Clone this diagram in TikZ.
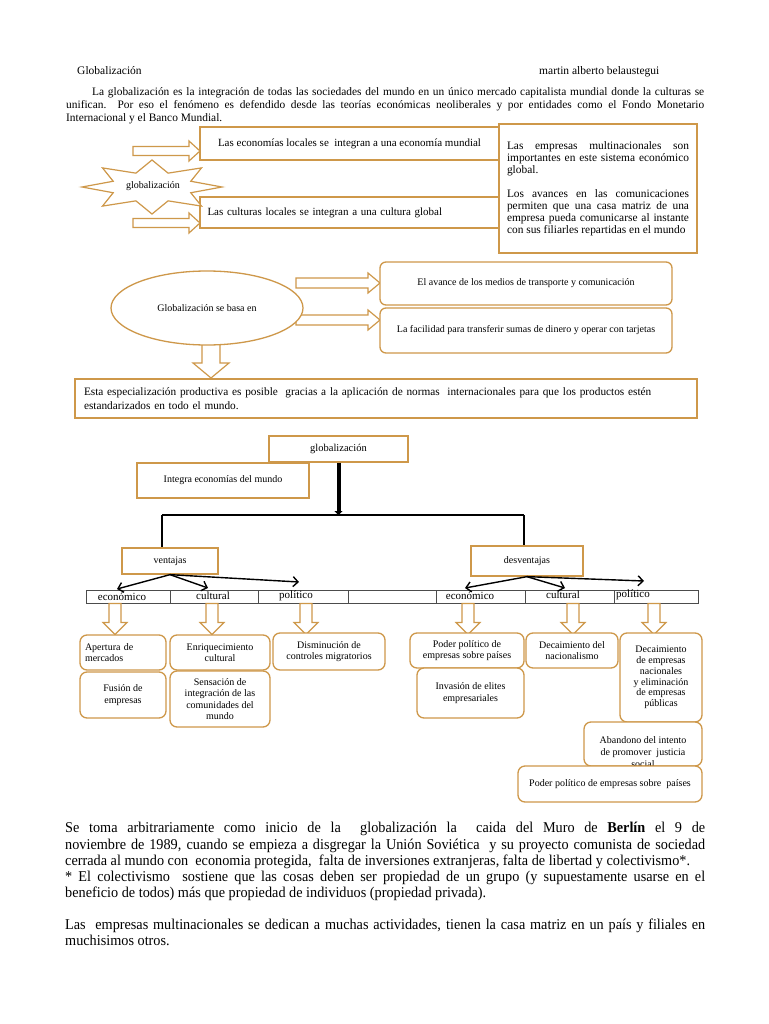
\documentclass[tikz,border=0pt]{standalone}
\usepackage{fontspec}
\setmainfont{Liberation Serif}
\usetikzlibrary{shapes.geometric,arrows.meta}
\definecolor{boxc}{RGB}{206,152,74}
\newcommand\fs[2]{\fontsize{#1}{#2}\selectfont}
\newcommand\jl[2]{\makebox[#1][s]{#2}}
\newcommand\cjl[1]{\scalebox{0.95}[1]{\makebox[673.7pt][s]{#1}}}
\newcommand\cnl[1]{\scalebox{0.95}[1]{#1}}
\tikzset{
  pics/blk/.style n args={4}{code={%
    \draw[barrow] (0,-#2) -- ({#1-#4},-#2) -- ({#1-#4},-#3) -- (#1,0) -- ({#1-#4},#3) -- ({#1-#4},#2) -- (0,#2) -- cycle;}},
  barrow/.style={draw=boxc,line width=1.2pt,fill=white,line join=miter},
  obox/.style={draw=boxc,line width=1.3pt,inner sep=0pt,align=center,fill=white},
  rbox/.style={obox,rounded corners=6pt},
  tline/.style={line width=1.6pt,draw=black},
  barb/.style={line width=1.4pt,-{Straight Barb[length=5pt,width=10pt]}},
  cell/.style={draw=black!70,line width=0.6pt,minimum height=13pt,inner sep=0pt},
  lbl/.style={font=\fs{11}{12},inner sep=0pt},
  txt/.style={inner sep=0pt,anchor=base west},
}
\begin{document}
\begin{tikzpicture}[x=1pt,y=-1pt]
\useasboundingbox[fill=white] (0,0) rectangle (768,1024);

% header
\node[txt,font=\fs{11.5}{13}] (title) at (77,75) {Globalización};
\node[txt,font=\fs{11.5}{13}] (author) at (539,75) {martin alberto belaustegui};
\node[txt,font=\fs{11.4}{13}] (i1) at (92,96) {\jl{612pt}{La globalización es la integración de todas las sociedades del mundo en un único mercado capitalista mundial donde la culturas se}};
\node[txt,font=\fs{11.4}{13}] (i2) at (66,109) {\jl{638pt}{unifican.\ \ Por eso el fenómeno es defendido desde las teorías económicas neoliberales y por entidades como el Fondo Monetario}};
\node[txt,font=\fs{11.4}{13}] (i3) at (66,122) {Internacional y el Banco Mundial.};

% top section
\pic at (133,151) {blk={67}{4.5}{10}{11}};
\pic at (133,223) {blk={67}{4.5}{10}{11}};
\node[obox,minimum width=299,minimum height=33,font=\fs{11}{12}] (b1) at (349.5,143.5) {Las economías locales se\ \ integran a una economía mundial};
\node[obox,minimum width=299,minimum height=31,font=\fs{11}{12},text width=284,align=left] (b2) at (349.5,212.5) {Las culturas locales se integran a una cultura global\\[4pt]};
\node[obox,minimum width=198,minimum height=129,font=\fs{11.4}{12},align=left] (mn) at (598,188.5) {%
\jl{182pt}{Las empresas multinacionales son}\\
\jl{182pt}{importantes en este sistema económico}\\
global.\\[12pt]
\jl{182pt}{Los avances en las comunicaciones}\\
\jl{182pt}{permiten que una casa matriz de una}\\
\jl{182pt}{empresa pueda comunicarse al instante}\\
con sus filiarles repartidas en el mundo};
\draw[barrow] (222,187) \foreach \a in {0,45,...,315}{ -- ({152+42*cos(\a+22.5)},{187+15*sin(\a+22.5)}) -- ({152+70*cos(\a+45)},{187+27*sin(\a+45)}) } -- cycle;
\node[font=\fs{10}{12},inner sep=0pt] (star) at (153,186) {globalización};

% oval section
\pic at (296,283) {blk={84}{5}{10}{12}};
\pic at (296,320) {blk={84}{5}{10}{12}};
\pic[rotate=-90] at (211,340) {blk={38}{9}{18}{15}};
\node[ellipse,draw=boxc,line width=1.3pt,fill=white,minimum width=192,minimum height=74,inner sep=0pt,font=\fs{10}{12}] (oval) at (207,308) {Globalización se basa en};
\node[rbox,minimum width=292,minimum height=43,font=\fs{10}{12}] (ba) at (526,283.5) {El avance de los medios de transporte y comunicación};
\node[rbox,minimum width=292,minimum height=45,font=\fs{10}{12}] (bb) at (526,330.5) {La facilidad para transferir sumas de dinero y operar con tarjetas};
\node[obox,minimum width=622,minimum height=39,font=\fs{11.3}{14},text width=604,align=left] (esp) at (386,398.5) {Esta especialización productiva es posible\ \ gracias a la aplicación de normas\ \ internacionales para que los productos estén\\ estandarizados en todo el mundo.};

% tree
\node[obox,minimum width=172,minimum height=35,font=\fs{10}{12}] (integ) at (223,480.5) {Integra economías del mundo};
\node[obox,minimum width=139,minimum height=26,font=\fs{10.5}{12}] (glob) at (338.5,449) {globalización};
\coordinate (jc) at (338.5,515);
\coordinate (jl) at (162,515);
\coordinate (jr) at (524,515);
\node[obox,minimum width=96,minimum height=26,font=\fs{10}{12}] (vent) at (170,561) {ventajas};
\node[obox,minimum width=112,minimum height=30,font=\fs{10}{12}] (desv) at (527,561) {desventajas};
\draw[line width=4pt,-{Triangle[length=4pt,width=8pt]}] (glob.south) -- (jc);
\draw[tline] (jl) -- (jr);
\draw[tline] (jl) -- (jl |- vent.north);
\draw[tline] (jr) -- (jr |- desv.north);

% row of cells
\node[cell,minimum width=84] (c1) at (128,596.5) {};
\node[cell,minimum width=88] (c2) at (214,596.5) {};
\node[cell,minimum width=90] (c3) at (303,596.5) {};
\node[cell,minimum width=88] (c4) at (392,596.5) {};
\node[cell,minimum width=89] (c5) at (480.5,596.5) {};
\node[cell,minimum width=89] (c6) at (569.5,596.5) {};
\node[cell,minimum width=84] (c7) at (656,596.5) {};
\node[lbl] (l1) at (122,597) {económico};
\node[lbl] (l2) at (213,596) {cultural};
\node[lbl] (l3) at (296,596) {político};
\node[lbl] (l5) at (470,596) {económico};
\node[lbl] (l6) at (563,595) {cultural};
\node[lbl] (l7) at (633,595) {político};
\coordinate (t1) at (117,589);
\coordinate (t2) at (208,588);
\coordinate (t3) at (299,582);
\coordinate (t5) at (465,588);
\coordinate (t6) at (565,588);
\coordinate (t7) at (644,581);
\draw[barb] (vent.south) -- (t1);
\draw[barb] (vent.south) -- (t2);
\draw[barb] (vent.south) -- (t3);
\draw[barb] (desv.south) -- (t5);
\draw[barb] (desv.south) -- (t6);
\draw[barb] (desv.south) -- (t7);

% down arrows
\foreach \x in {115,212,306,468,573,654}{\pic[rotate=-90] at (\x,603.5) {blk={31}{6}{12}{12}};}

% bottom boxes
\tikzset{sbox/.style={rbox,rounded corners=7pt,font=\fs{10}{11.5}}}
\node[sbox,minimum width=86,minimum height=35,text width=76,align=left] (apert) at (123,652.5) {Apertura de\\mercados};
\node[sbox,minimum width=86,minimum height=46] (fusion) at (123,695) {Fusión de\\empresas};
\node[sbox,minimum width=100,minimum height=35] (enriq) at (220,652.5) {Enriquecimiento\\cultural};
\node[sbox,minimum width=100,minimum height=56] (sens) at (220,699) {Sensación de\\integración de las\\comunidades del\\mundo};
\node[sbox,minimum width=112,minimum height=37] (dism) at (329,651.5) {Disminución de\\controles migratorios};
\node[sbox,minimum width=114,minimum height=35] (poder1) at (467,650.5) {Poder político de\\empresas sobre países};
\node[sbox,minimum width=107,minimum height=50] (invas) at (470.5,693) {Invasión de elites\\empresariales};
\node[sbox,minimum width=92,minimum height=35] (decn) at (572,650.5) {Decaimiento del\\nacionalismo};
\node[sbox,minimum width=82,minimum height=89,font=\fs{10}{10.8}] (dece) at (661,677.5) {Decaimiento\\de empresas\\nacionales\\y eliminación\\de empresas\\públicas};
\node[sbox,minimum width=118,minimum height=44] (aband) at (643,744) {};
\node[inner sep=0pt,align=center,font=\fs{10}{12}] (abandt) at (643,752) {Abandono del intento\\de promover\ \ justicia\\social};
\node[sbox,minimum width=184,minimum height=36] (poder2) at (610,784) {Poder político de empresas sobre\ \ países};

% bottom text
\tikzset{btxt/.style={txt,font=\fs{15}{16}}}
\node[btxt] (p1) at (65,832) {\cjl{Se toma arbitrariamente como inicio de la\ \ globalización la\ \ caida del Muro de \textbf{Berlín} el 9 de}};
\node[btxt] (p2) at (65,849) {\cjl{noviembre de 1989, cuando se empieza a disgregar la Unión Soviética\ \ y su proyecto comunista de sociedad}};
\node[btxt] (p3) at (65,865) {\cnl{cerrada al mundo con\ \ economia protegida,\ \ falta de inversiones extranjeras, falta de libertad y colectivismo*.}};
\node[btxt] (p4) at (65,881) {\cjl{* El colectivismo\ \ sostiene que las cosas deben ser propiedad de un grupo (y supuestamente usarse en el}};
\node[btxt] (p5) at (65,897) {\cnl{beneficio de todos) más que propiedad de individuos (propiedad privada).}};
\node[btxt] (p6) at (65,929) {\cjl{Las\ \ empresas multinacionales se dedican a muchas actividades, tienen la casa matriz en un país y filiales en}};
\node[btxt] (p7) at (65,945) {\cnl{muchisimos otros.}};
\end{tikzpicture}
\end{document}
